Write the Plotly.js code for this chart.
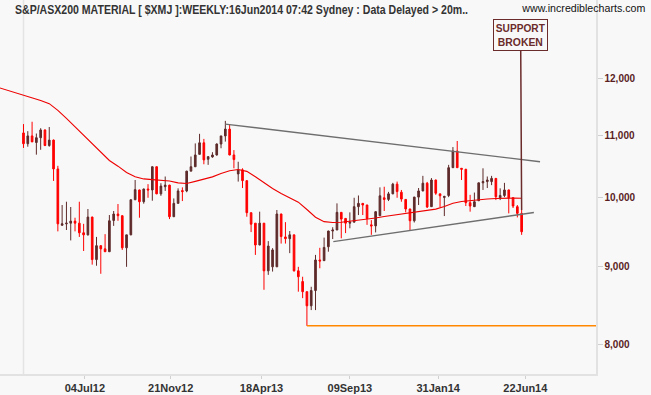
<!DOCTYPE html>
<html>
<head>
<meta charset="utf-8">
<script src="https://cdn.plot.ly/plotly-3.0.1.min.js"></script>
<style>html,body{margin:0;padding:0;background:#f8f8f8;}#chart{width:651px;height:395px;}</style>
</head>
<body>
<div id="chart"></div>
<script>
// Weekly candles, first week starting 2012-03-26
const firstWeek = '2012-03-26';
const openP = [11040,10860,10990,10880,10960,11090,10830,10920,10450,9590,
9610,9620,9650,9620,9480,9450,9710,9100,9295,9250,
9210,9660,9755,9730,9265,9450,9970,10120,9940,10135,
10120,10485,10060,10170,10195,9715,9915,10110,10105,10415,
10485,10685,10875,10605,10643,10675,10855,10990,11105,10675,
10370,10435,10265,9775,9620,9305,9620,8945,9000,9000,
9755,9420,9395,9450,8945,8800,8665,8480,8680,9095,
9085,9280,9505,9520,9780,9690,9620,9635,9865,9915,
9890,9595,9580,9730,10000,9975,10060,10210,10085,9975,
9830,9655,10010,10105,10225,9865,10275,10060,10005,10035,
10470,10740,10460,10445,9925,9865,9955,10230,10250,10250,
10300,10000,10035,10120,10000,9865,9765];
const highP = [11190,11070,11230,11030,11120,11100,11140,10930,10500,9890,
9940,9860,9700,9940,9610,9830,9715,9420,9300,9460,
9740,9800,9905,9735,9450,9975,10275,10125,10140,10210,
10490,10490,10225,10330,10200,9990,10145,10160,10420,10650,
10865,11025,10940,10650,10720,10865,10990,11245,11185,10755,
10565,10460,10265,9775,9620,9790,9620,9360,9260,9815,
9760,9635,9505,9450,9000,8865,8665,8730,9165,9265,
9410,9510,9560,9915,9785,9695,9780,10000,10035,9920,
9895,9665,9795,10160,10170,10090,10230,10250,10120,9980,
9835,10015,10150,10340,10245,10305,10280,10060,10030,10515,
10805,10905,10465,10450,10045,10080,10235,10460,10330,10340,
10305,10145,10230,10125,10005,9890,9815];
const lowP = [10790,10810,10890,10680,10760,10820,10810,10260,9500,9580,
9520,9370,9500,9420,9220,9440,9030,9015,8905,9205,
9205,9580,9655,9235,9000,9445,9965,9700,9910,10000,
9955,10055,10030,10105,9680,9715,9915,9950,10085,10415,
10480,10685,10525,10515,10630,10665,10785,10895,10670,10460,
10250,10150,9715,9490,9165,9300,8690,8890,8935,9000,
9325,9325,9190,8935,8665,8580,8225,8425,8425,8980,
9085,9210,9390,9520,9400,9475,9545,9630,9740,9740,
9595,9450,9485,9730,9800,9950,10055,10000,9940,9780,
9520,9630,9890,10100,9845,9860,10045,9855,9725,10010,
10470,10465,10275,9875,9790,9860,9950,10120,10150,10195,
9965,9965,10010,9765,9845,9705,9450];
const closeP = [10860,10990,10890,10960,11090,10830,10920,10450,9610,9610,
9620,9650,9620,9480,9450,9710,9100,9295,9250,9210,
9655,9755,9730,9265,9450,9970,10125,9940,10135,10120,
10485,10060,10180,10195,9715,9915,10105,10095,10415,10485,
10675,10875,10595,10648,10675,10855,10990,11105,10675,10600,
10435,10265,9775,9605,9305,9620,8945,9290,9235,9755,
9425,9395,9450,8945,8865,8665,8480,8680,9095,9080,
9270,9505,9520,9780,9680,9620,9635,9865,9915,9890,
9690,9580,9790,10030,9975,10060,10210,10095,9980,9830,
9655,10010,10105,10225,9860,10275,10070,10030,10020,10470,
10740,10470,10445,9925,9875,9940,10230,10250,10275,10300,
10015,10035,10120,10000,9875,9765,9495];

// Moving average read every two weeks, starting 2012-02-13
const maStart = '2012-02-13';
const maValues = [11837,11790,11743,11698,11650,11599,11544,11428,11288,11141,
10996,10852,10713,10586,10494,10394,10326,10292,10281,10273,
10259,10230,10220,10253,10291,10324,10378,10422,10441,10411,
10327,10230,10143,10066,10003,9933,9823,9707,9642,9630,
9633,9648,9664,9677,9697,9719,9738,9759,9778,9795,
9808,9828,9868,9916,9943,9958,9972,9981,9989,9995,
9995,9992];

// Trend lines and support level
const upperTrendDates = ['2013-02-18','2014-07-16'];
const upperTrendValues = [11190,10566];
const lowerTrendDates = ['2013-08-13','2014-07-06'];
const lowerTrendValues = [9352,9778];
const supportDates = ['2013-07-01','2014-10-20'];
const supportValues = [8225,8225];

const tickDates = ['2012-07-04','2012-11-21','2013-04-18','2013-09-09','2014-01-31','2014-06-22'];
const tickLabels = ['04Jul12','21Nov12','18Apr13','09Sep13','31Jan14','22Jun14'];
const yTickValues = [8000,9000,10000,11000,12000];
const yTickLabels = ['8,000','9,000','10,000','11,000','12,000'];

function weekly(startStr, n, stepDays){
  const t0 = Date.parse(startStr + 'T00:00:00Z');
  const out = [];
  for(let i=0;i<n;i++) out.push(new Date(t0 + i*stepDays*864e5).toISOString().slice(0,10));
  return out;
}
const dates = weekly(firstWeek, openP.length, 7);
const maDates = weekly(maStart, maValues.length, 14);

const UP = '#5e2a2a', DOWN = '#ff0000';
const traces = [
  {type:'scatter', mode:'lines', x:maDates, y:maValues, line:{color:'#ee0000', width:1.1}, hoverinfo:'skip'},
  {type:'scatter', mode:'lines', x:upperTrendDates, y:upperTrendValues, line:{color:'#6e6e6e', width:1.4}, hoverinfo:'skip'},
  {type:'scatter', mode:'lines', x:lowerTrendDates, y:lowerTrendValues, line:{color:'#6e6e6e', width:1.4}, hoverinfo:'skip'},
  {type:'scatter', mode:'lines', x:supportDates, y:supportValues, line:{color:'#ff8800', width:1.5}, hoverinfo:'skip'},
  {type:'candlestick', x:dates, open:openP, high:highP, low:lowP, close:closeP,
   increasing:{line:{color:UP, width:1}, fillcolor:UP},
   decreasing:{line:{color:DOWN, width:1}, fillcolor:DOWN},
   whiskerwidth:0, hoverinfo:'skip'}
];

const W = 651, H = 395, L = 0, R = 55, T = 0, B = 21;
const plotW = W - L - R, plotH = H - T - B;

const layout = {
  width: W, height: H,
  margin: {l:L, r:R, t:T, b:B, pad:0},
  paper_bgcolor:'#f8f8f8', plot_bgcolor:'#f8f8f8',
  showlegend:false,
  boxgap:0.45,
  title:{text:'S&P/ASX200 MATERIAL [ $XMJ ]:WEEKLY:16Jun2014 07:42 Sydney : Data Delayed > 20m..',
         x:15/W, xref:'container', xanchor:'left', y:1-9.5/H, yref:'container', yanchor:'middle',
         font:{family:'Liberation Sans, Arial, sans-serif', size:12, weight:'bold', color:'#333333'}},
  xaxis:{type:'date', range:['2012-02-16 17:00','2014-10-15 05:00'],
         rangeslider:{visible:false}, showgrid:false, zeroline:false,
         showline:true, linecolor:'#e2e2e2', linewidth:1.5,
         tickmode:'array', tickvals:tickDates, ticktext:tickLabels,
         ticks:'outside', ticklen:3, tickcolor:'#d0d0d0',
         tickfont:{family:'Liberation Sans, Arial, sans-serif', size:11, weight:'bold', color:'#333333'},
         fixedrange:true, automargin:false},
  yaxis:{type:'log', side:'right', range:[3.88321, 4.13107],
         showgrid:false, zeroline:false,
         showline:true, linecolor:'#e2e2e2', linewidth:1.5,
         tickmode:'array', tickvals:yTickValues, ticktext:yTickLabels,
         ticks:'outside', ticklen:5, tickcolor:'#d0d0d0',
         tickfont:{family:'Liberation Sans, Arial, sans-serif', size:10, weight:'bold', color:'#5a1e1e'},
         fixedrange:true, automargin:false},
  shapes:[
    {type:'line', xref:'x', yref:'paper', x0:dates[0], x1:dates[0], y0:0, y1:1,
     line:{color:'#e4e4e4', width:1.5}, layer:'below'}
  ],
  annotations:[
    {xref:'paper', yref:'paper', x:644/plotW, y:1-9/plotH, xanchor:'right', yanchor:'middle',
     text:'www.incrediblecharts.com', showarrow:false,
     font:{family:'Liberation Sans, Arial, sans-serif', size:10, color:'#111111'}},
    {xref:'x', yref:'y', x:dates[dates.length-1], y:Math.log10(highP[highP.length-1]),
     text:'SUPPORT<br>BROKEN', showarrow:true, arrowhead:0, arrowwidth:1.5, arrowcolor:'#6b2b2b',
     ax:-1, ay:-175, standoff:0, width:51, height:28, borderpad:1, borderwidth:1,
     bordercolor:'#6b2b2b', bgcolor:'#f8f8f8',
     font:{family:'Liberation Sans, Arial, sans-serif', size:11, weight:'bold', color:'#6b2b2b'}}
  ]
};

function condense(el, len){
  if(!el) return;
  el.setAttribute('textLength', len);
  el.setAttribute('lengthAdjust', 'spacingAndGlyphs');
}

Plotly.newPlot('chart', traces, layout, {staticPlot:true, displayModeBar:false}).then(function(gd){
  condense(gd.querySelector('.gtitle'), 453);
  const ann = gd.querySelectorAll('.annotation-text');
  if(ann[0]) condense(ann[0], 123);
  if(ann[1]){
    const lines = ann[1].querySelectorAll('tspan.line');
    lines.forEach(function(t, i){ condense(t, i === 0 ? 49 : 45); });
  }
});
</script>
</body>
</html>
